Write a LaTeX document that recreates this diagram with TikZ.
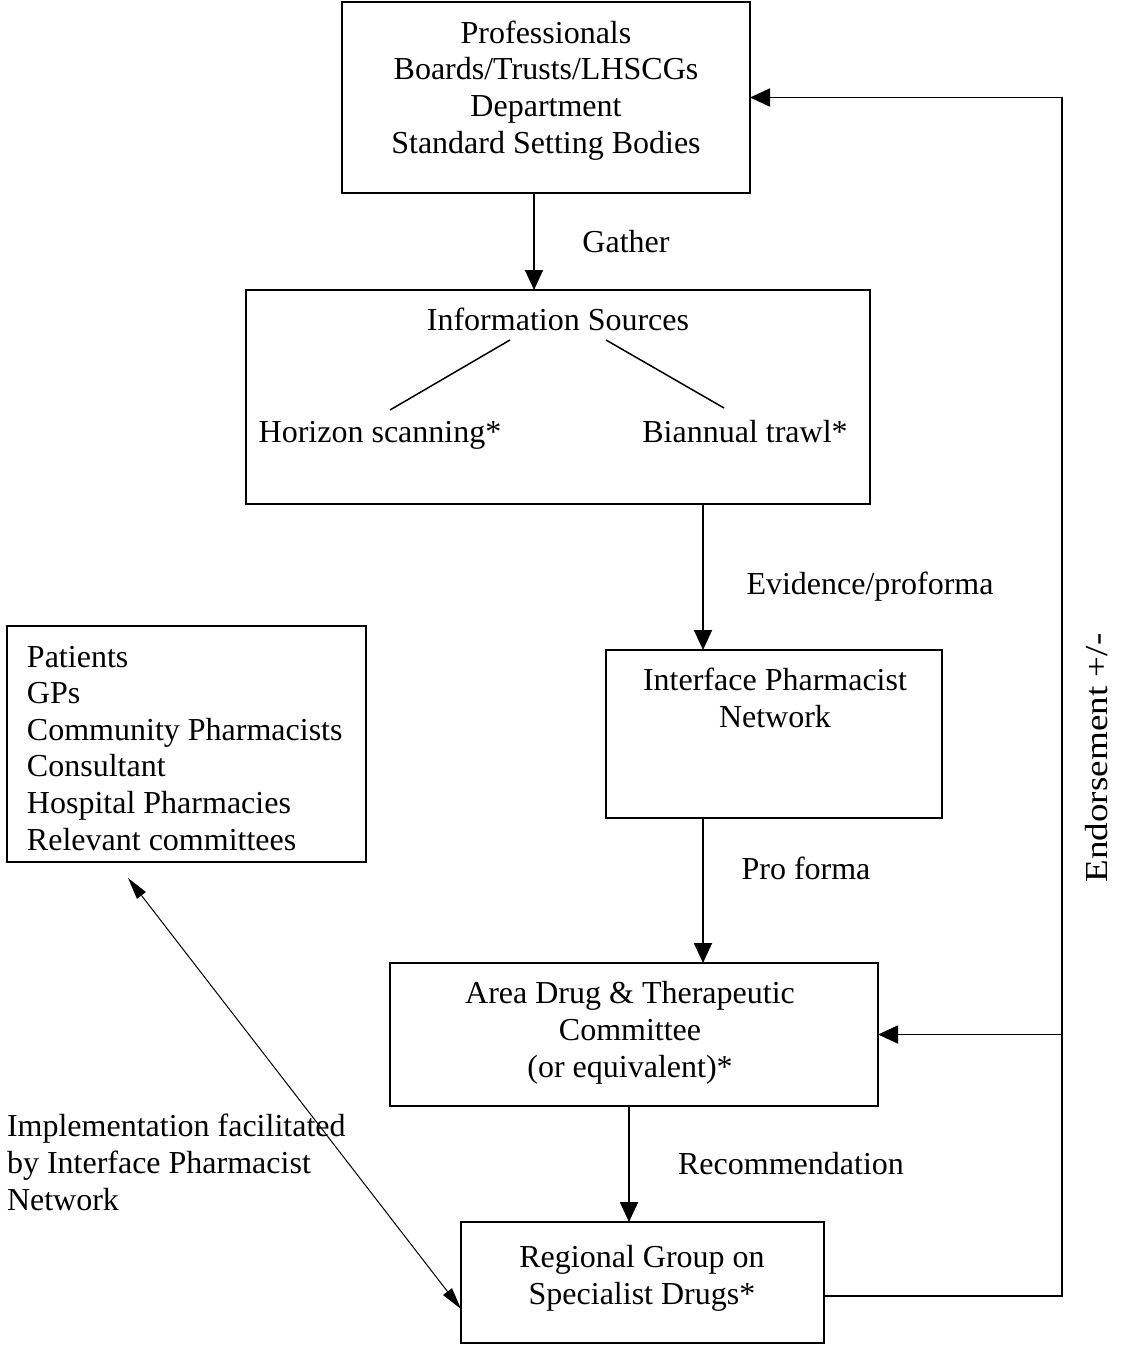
\documentclass[tikz,border=0pt]{standalone}
\usepackage{fontspec}
\setmainfont{Liberation Serif}
\usetikzlibrary{arrows.meta,calc}
\begin{document}
\begin{tikzpicture}[x=1pt,y=-1pt,
  box/.style={draw,line width=2pt,inner sep=0pt,outer sep=0pt},
  txt/.style={inner sep=0pt,outer sep=0pt,font=\fontsize{32}{36.8}\selectfont,align=center,anchor=base},
  ltxt/.style={inner sep=0pt,outer sep=0pt,font=\fontsize{32}{36.6}\selectfont,align=left,anchor=base west},
  flow/.style={line width=1.8pt,-{Triangle[length=20pt,width=18pt]}},
  branch/.style={line width=1.5pt}]
\useasboundingbox (0,0) rectangle (1139,1348);
% boxes
\node[box,minimum width=408pt,minimum height=191pt] (prof) at (546,97.5) {};
\node[box,minimum width=624pt,minimum height=214pt] (info) at (558,397) {};
\node[box,minimum width=336pt,minimum height=168pt] (ipn) at (774,734) {};
\node[box,minimum width=488pt,minimum height=143pt] (adtc) at (634,1034.5) {};
\node[box,minimum width=363pt,minimum height=121pt] (rg) at (642.5,1282.5) {};
\node[box,minimum width=359pt,minimum height=236pt] (pat) at (186.5,744) {};
% box texts (base anchor = baseline of the last line)
\node[txt] (proft) at (546,153.5) {Professionals\\Boards/Trusts/LHSCGs\\Department\\Standard Setting Bodies};
\node[txt] (infot) at (558,330) {Information Sources};
\node[txt] (hor) at (380,442) {Horizon scanning*};
\node[txt] (bia) at (745,442) {Biannual trawl*};
\node[txt] (ipnt) at (775,727) {Interface Pharmacist\\Network};
\node[txt] (adtct) at (630,1077) {Area Drug \& Therapeutic\\Committee\\(or equivalent)*};
\node[txt] (rgt) at (642,1304) {Regional Group on\\Specialist Drugs*};
\node[ltxt] (patt) at (27,850) {Patients\\GPs\\Community Pharmacists\\Consultant\\Hospital Pharmacies\\Relevant committees};
% connector labels
\node[txt] (gather) at (626,253) {Gather};
\node[txt] (evid) at (870,594) {Evidence/proforma};
\node[txt] (prof2) at (806,879) {Pro forma};
\node[txt] (rec) at (791,1174) {Recommendation};
\node[ltxt] (impl) at (7,1210) {Implementation facilitated\\by Interface Pharmacist\\Network};
\node[txt,rotate=90] (endo) at (1107,758) {\scalebox{1.16}[1]{Endorsement +/-}};
% branches inside information box
\coordinate (s1) at (510,340);
\coordinate (s2) at (390,410);
\coordinate (s3) at (606,340);
\coordinate (s4) at (724,408);
\draw[branch] (s1) -- (s2);
\draw[branch] (s3) -- (s4);
% flow arrows
\draw[flow] ($(prof.south)+(-12,0)$) -- ($(info.north)+(-24,0)$);
\draw[flow] ($(info.south)+(145,0)$) -- ($(ipn.north)+(-71,0)$);
\draw[flow] ($(ipn.south)+(-71,0)$) -- ($(adtc.north)+(69,0)$);
\draw[flow] ($(adtc.south)+(-5,0)$) -- ($(rg.north)+(-13.5,0)$);
% endorsement loop
\coordinate (loopT) at (1062,97.5);
\draw[flow] ($(rg.east)+(0,13.5)$) -| (loopT) -- (prof.east);
\draw[flow] (adtc.east -| loopT) -- (adtc.east);
% implementation double arrow
\coordinate (dtop) at (128,878);
\coordinate (dbot) at (461,1309);
\draw[line width=1pt,{Triangle[length=22pt,width=11pt]}-{Triangle[length=22pt,width=11pt]}] (dtop) -- (dbot);
\end{tikzpicture}
\end{document}
